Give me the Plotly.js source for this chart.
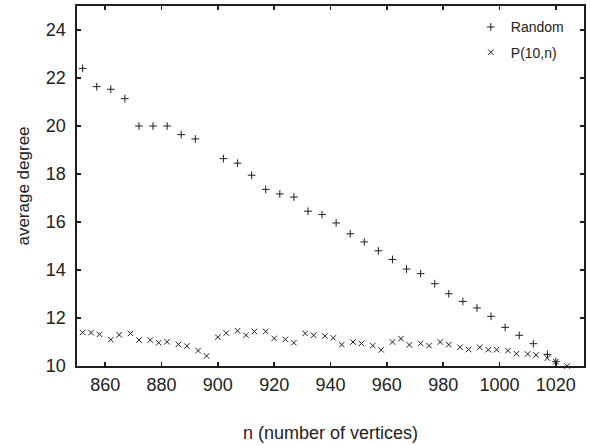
<!DOCTYPE html>
<html>
<head>
<meta charset="utf-8">
<script src="https://cdn.plot.ly/plotly-3.0.1.min.js"></script>
<style>html,body{margin:0;padding:0;background:#fff;}#chart{width:590px;height:445px;}</style>
</head>
<body>
<div id="chart"></div>
<script>
// Random graphs: n and average degree
const randomN = [852, 857, 862, 867, 872, 877, 882, 887, 892, 902, 907, 912, 917, 922, 927, 932, 937, 942, 947, 952, 957, 962, 967, 972, 977, 982, 987, 992, 997, 1002, 1007, 1012, 1017, 1020];
const randomDeg = [22.40, 21.64, 21.53, 21.14, 20.0, 20.0, 20.0, 19.64, 19.46, 18.64, 18.45, 17.95, 17.36, 17.17, 17.04, 16.45, 16.31, 15.96, 15.51, 15.17, 14.80, 14.44, 14.04, 13.85, 13.43, 13.01, 12.69, 12.42, 12.07, 11.61, 11.28, 10.93, 10.48, 10.18];

// P(10,n): n and average degree
const pN = [852, 855, 858, 862, 865, 869, 872, 876, 879, 882, 886, 889, 893, 896, 900, 903, 907, 910, 913, 917, 920, 924, 927, 931, 934, 938, 941, 944, 948, 951, 955, 958, 962, 965, 968, 972, 975, 979, 982, 986, 989, 993, 996, 999, 1003, 1006, 1010, 1013, 1017, 1020, 1024];
const pDeg = [11.40, 11.39, 11.32, 11.10, 11.30, 11.36, 11.08, 11.08, 10.97, 11.01, 10.90, 10.83, 10.64, 10.42, 11.20, 11.37, 11.47, 11.28, 11.44, 11.44, 11.15, 11.11, 10.97, 11.36, 11.28, 11.25, 11.17, 10.89, 11.00, 10.94, 10.85, 10.67, 11.00, 11.14, 10.88, 10.94, 10.85, 11.00, 10.89, 10.78, 10.69, 10.78, 10.68, 10.68, 10.64, 10.51, 10.50, 10.46, 10.33, 10.18, 10.0];

const seriesNames = ["Random", "P(10,n)"];
const xTicks = [860, 880, 900, 920, 940, 960, 980, 1000, 1020];
const yTicks = [10, 12, 14, 16, 18, 20, 22, 24];

const ink = "#1e1e1e";
const fontFam = "Liberation Sans, Arial, Helvetica, sans-serif";

const traces = [
  {
    x: randomN, y: randomDeg, name: seriesNames[0], type: "scatter", mode: "markers",
    cliponaxis: false, legendgroup: "a",
    marker: {symbol: "cross-thin-open", size: 5.5, color: ink, line: {color: ink, width: 1}}
  },
  {
    x: pN, y: pDeg, name: seriesNames[1], type: "scatter", mode: "markers",
    cliponaxis: false, legendgroup: "b",
    marker: {symbol: "x-thin-open", size: 5.5, color: ink, line: {color: ink, width: 1}}
  }
];

const axisCommon = {
  showgrid: false, zeroline: false, showline: true, mirror: "allticks",
  linecolor: ink, linewidth: 1.6, ticks: "inside", ticklen: 4, tickwidth: 1.4, tickcolor: ink,
  tickfont: {family: fontFam, size: 18, color: "#222"}
};

const layout = {
  width: 590, height: 445,
  margin: {l: 77, r: 6, t: 6, b: 79},
  paper_bgcolor: "#fff", plot_bgcolor: "#fff",
  font: {family: fontFam, color: "#222"},
  showlegend: true,
  legend: {
    x: 0.97, y: 0.985, xanchor: "right", yanchor: "top",
    bgcolor: "rgba(0,0,0,0)", borderwidth: 0,
    font: {family: fontFam, size: 14, color: "#222"},
    itemwidth: 30, tracegroupgap: 4
  },
  xaxis: Object.assign({}, axisCommon, {
    range: [850, 1030], tickvals: xTicks, ticktext: xTicks.map(String),
    ticklabelstandoff: 2,
    title: {text: "n (number of vertices)", font: {family: fontFam, size: 18, color: "#222"}, standoff: 32}
  }),
  yaxis: Object.assign({}, axisCommon, {
    range: [10, 25], tickvals: yTicks, ticktext: yTicks.map(String),
    ticklabelstandoff: 6,
    title: {text: "average degree", font: {family: fontFam, size: 17, color: "#222"}, standoff: 12}
  })
};

Plotly.newPlot("chart", traces, layout, {displayModeBar: false, staticPlot: true});
</script>
</body>
</html>
